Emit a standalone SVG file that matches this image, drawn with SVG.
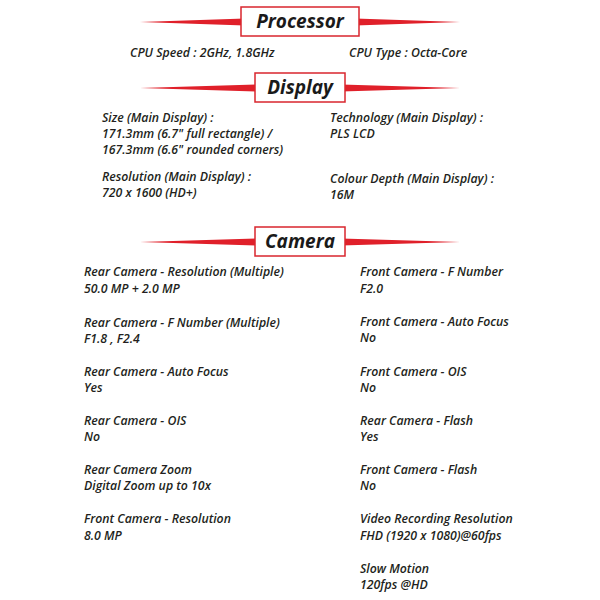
<svg xmlns="http://www.w3.org/2000/svg" width="600" height="600" viewBox="0 0 600 600">
<style>
text{font-family:"Open Sans","Liberation Sans",sans-serif;font-style:italic;font-weight:600;font-size:12.3px;fill:#231f20}
.h{font-size:19px;font-weight:700;text-anchor:middle;fill:#1a1a1a}
.box{fill:#fff;stroke:#d9262e;stroke-width:1.5}
.bar{fill:#e0202a}
</style>
<rect width="600" height="600" fill="#fff"/>
<g id="processor-header">
<polygon class="bar" points="140,22 245,18.5 245,25.5"/><polygon class="bar" points="460,22 355,18.5 355,25.5"/>
<rect class="box" x="241" y="7" width="118" height="29"/><text class="h" x="300" y="28">Processor</text></g>
<g id="processor">
<text x="130" y="57">CPU Speed : 2GHz, 1.8GHz</text>
<text x="349" y="57">CPU Type : Octa-Core</text></g>
<g id="display-header">
<polygon class="bar" points="140,88 259,84.5 259,91.5"/><polygon class="bar" points="460,88 341,84.5 341,91.5"/>
<rect class="box" x="255" y="73" width="90" height="29"/><text class="h" x="300" y="94">Display</text></g>
<g id="display">
<text x="102" y="122">Size (Main Display) :</text>
<text x="102" y="138">171.3mm (6.7" full rectangle) /</text>
<text x="102" y="154">167.3mm (6.6" rounded corners)</text>
<text x="102" y="181">Resolution (Main Display) :</text>
<text x="102" y="197">720 x 1600 (HD+)</text>
<text x="330" y="122">Technology (Main Display) :</text>
<text x="330" y="138">PLS LCD</text>
<text x="330" y="183">Colour Depth (Main Display) :</text>
<text x="330" y="199">16M</text></g>
<g id="camera-header">
<polygon class="bar" points="140,242 259,238.5 259,245.5"/><polygon class="bar" points="460,242 341,238.5 341,245.5"/>
<rect class="box" x="255" y="227" width="90" height="29"/><text class="h" x="300" y="248">Camera</text></g>
<g id="camera">
<text x="84" y="276">Rear Camera - Resolution (Multiple)</text><text x="84" y="293">50.0 MP + 2.0 MP</text>
<text x="84" y="327">Rear Camera - F Number (Multiple)</text><text x="84" y="343">F1.8 , F2.4</text>
<text x="84" y="376">Rear Camera - Auto Focus</text><text x="84" y="392">Yes</text>
<text x="84" y="425">Rear Camera - OIS</text><text x="84" y="441">No</text>
<text x="84" y="474">Rear Camera Zoom</text><text x="84" y="490">Digital Zoom up to 10x</text>
<text x="84" y="523">Front Camera - Resolution</text><text x="84" y="540">8.0 MP</text>
<text x="360" y="276">Front Camera - F Number</text><text x="360" y="293">F2.0</text>
<text x="360" y="326">Front Camera - Auto Focus</text><text x="360" y="342">No</text>
<text x="360" y="376">Front Camera - OIS</text><text x="360" y="392">No</text>
<text x="360" y="425">Rear Camera - Flash</text><text x="360" y="441">Yes</text>
<text x="360" y="474">Front Camera - Flash</text><text x="360" y="490">No</text>
<text x="360" y="523">Video Recording Resolution</text><text x="360" y="540">FHD (1920 x 1080)@60fps</text>
<text x="360" y="573">Slow Motion</text><text x="360" y="589">120fps @HD</text></g>
</svg>
